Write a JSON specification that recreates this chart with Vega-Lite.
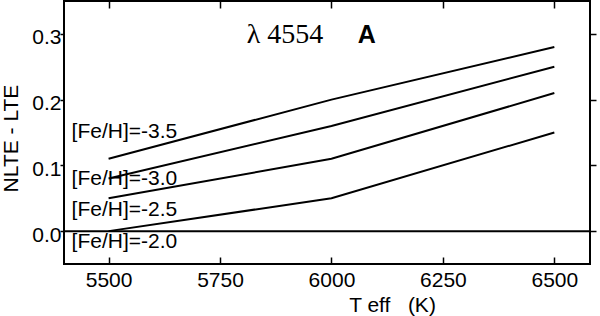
{
  "$schema": "https://vega.github.io/schema/vega-lite/v6.json",
  "width": 526,
  "height": 263,
  "autosize": "none",
  "padding": {"left": 64, "top": 1, "right": 10, "bottom": 52},
  "background": "white",
  "config": {
    "view": {"stroke": "black", "strokeWidth": 2},
    "axis": {
      "domain": false, "grid": false,
      "tickColor": "black", "tickWidth": 1.5,
      "labelColor": "black", "titleColor": "black",
      "labelFont": "Liberation Sans", "titleFont": "Liberation Sans",
      "labelFontSize": 21, "titleFontSize": 21, "titleFontWeight": "normal"
    }
  },
  "datasets": {
    "curves": [
      {"feh": "-3.5", "teff": 5500, "d": 0.11},
      {"feh": "-3.5", "teff": 6000, "d": 0.20},
      {"feh": "-3.5", "teff": 6500, "d": 0.28},
      {"feh": "-3.0", "teff": 5500, "d": 0.08},
      {"feh": "-3.0", "teff": 6000, "d": 0.16},
      {"feh": "-3.0", "teff": 6500, "d": 0.25},
      {"feh": "-2.5", "teff": 5500, "d": 0.05},
      {"feh": "-2.5", "teff": 6000, "d": 0.11},
      {"feh": "-2.5", "teff": 6500, "d": 0.21},
      {"feh": "-2.0", "teff": 5500, "d": 0.0},
      {"feh": "-2.0", "teff": 6000, "d": 0.05},
      {"feh": "-2.0", "teff": 6500, "d": 0.15}
    ],
    "labels": [
      {"text": "[Fe/H]=-3.5", "teff": 5417, "d": 0.151},
      {"text": "[Fe/H]=-3.0", "teff": 5417, "d": 0.080},
      {"text": "[Fe/H]=-2.5", "teff": 5417, "d": 0.032},
      {"text": "[Fe/H]=-2.0", "teff": 5417, "d": -0.017}
    ],
    "lambda": [{"text": "λ 4554", "teff": 5810, "d": 0.286}],
    "letter": [{"text": "A", "teff": 6059, "d": 0.286}],
    "zero": [{"v": 0}]
  },
  "resolve": {"axis": {"x": "independent", "y": "independent"}},
  "layer": [
    {
      "data": {"name": "curves"},
      "mark": {"type": "line", "color": "black", "strokeWidth": 2},
      "encoding": {
        "x": {
          "field": "teff", "type": "quantitative",
          "scale": {"domain": [5400, 6580], "nice": false, "zero": false},
          "axis": {
            "orient": "bottom", "values": [5500, 5750, 6000, 6250, 6500], "format": "d",
            "tickSize": -7, "labelPadding": 12,
            "title": "T eff\u00a0\u00a0\u00a0(K)", "titleX": 328, "titleY": 47,
            "titleAlign": "center", "titleBaseline": "alphabetic"
          }
        },
        "y": {
          "field": "d", "type": "quantitative",
          "scale": {"domain": [-0.05, 0.35], "nice": false, "zero": false},
          "axis": {
            "orient": "left", "values": [0, 0.1, 0.2, 0.3], "format": ".1f",
            "tickSize": 4, "labelPadding": -1, "labelOffset": 4,
            "title": "NLTE - LTE", "titleX": -53, "titleY": 137, "titleAngle": -90,
            "titleAlign": "center", "titleBaseline": "middle"
          }
        },
        "detail": {"field": "feh", "type": "nominal"}
      }
    },
    {
      "data": {"name": "zero"},
      "mark": {"type": "rule", "color": "black", "strokeWidth": 2},
      "encoding": {
        "y": {
          "field": "v", "type": "quantitative",
          "axis": {"orient": "right", "values": [0, 0.1, 0.2, 0.3], "labels": false, "tickSize": 6, "title": null}
        }
      }
    },
    {
      "data": {"name": "labels"},
      "mark": {"type": "text", "align": "left", "baseline": "middle", "fontSize": 21, "font": "Liberation Sans", "color": "black"},
      "encoding": {
        "x": {
          "field": "teff", "type": "quantitative",
          "axis": {"orient": "top", "values": [5500, 5750, 6000, 6250, 6500], "labels": false, "tickSize": -7, "title": null}
        },
        "y": {"field": "d", "type": "quantitative", "axis": null},
        "text": {"field": "text"}
      }
    },
    {
      "data": {"name": "lambda"},
      "mark": {"type": "text", "align": "left", "baseline": "alphabetic", "fontSize": 28, "font": "Times New Roman", "color": "black"},
      "encoding": {
        "x": {"field": "teff", "type": "quantitative", "axis": null},
        "y": {"field": "d", "type": "quantitative", "axis": null},
        "text": {"field": "text"}
      }
    },
    {
      "data": {"name": "letter"},
      "mark": {"type": "text", "align": "left", "baseline": "alphabetic", "fontSize": 25, "fontWeight": "bold", "font": "Liberation Sans", "color": "black"},
      "encoding": {
        "x": {"field": "teff", "type": "quantitative", "axis": null},
        "y": {"field": "d", "type": "quantitative", "axis": null},
        "text": {"field": "text"}
      }
    }
  ]
}
